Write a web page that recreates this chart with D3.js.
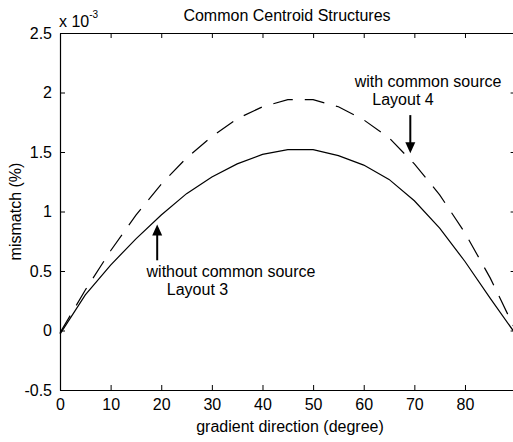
<!DOCTYPE html>
<html>
<head>
<meta charset="utf-8">
<script src="https://cdn.jsdelivr.net/npm/d3@7"></script>
<style>
  body { margin: 0; background: #fff; }
  text { font-family: "Liberation Sans", Arial, sans-serif; fill: #000; }
</style>
</head>
<body>
<div id="chart"></div>
<script>
// data, mismatch in units of 1e-3
var angles = [0, 5, 10, 15, 20, 25, 30, 35, 40, 45, 50, 55, 60, 65, 70, 75, 80, 85, 90];
var withoutSource = [-0.03, 0.30, 0.55, 0.77, 0.97, 1.15, 1.29, 1.40, 1.48, 1.52, 1.52, 1.47, 1.39, 1.27, 1.09, 0.86, 0.58, 0.27, -0.03];
var withSource = [-0.02, 0.34, 0.67, 0.97, 1.23, 1.45, 1.63, 1.78, 1.88, 1.94, 1.94, 1.88, 1.77, 1.62, 1.40, 1.14, 0.82, 0.44, 0.0];
var xTicks = [0, 10, 20, 30, 40, 50, 60, 70, 80];
var yTicks = [-0.5, 0, 0.5, 1, 1.5, 2, 2.5];

var width = 513, height = 442;
var margin = {top: 33, right: -2.6, bottom: 52, left: 60};
var fontSize = "16px";

var svg = d3.select("#chart").append("svg")
  .attr("width", width)
  .attr("height", height);

var x = d3.scaleLinear().domain([0, 90])
  .range([margin.left, width - margin.right]);
var y = d3.scaleLinear().domain([-0.5, 2.5])
  .range([height - margin.bottom, margin.top]);

//////////
// AXES //
//////////

var xAxis = d3.axisBottom(x).tickValues(xTicks).tickSizeInner(-5).tickSizeOuter(0).tickPadding(9);
var yAxis = d3.axisLeft(y).tickValues(yTicks).tickSizeInner(-5).tickSizeOuter(0).tickPadding(8)
  .tickFormat(function(d) { return d; });

var gx = svg.append("g")
  .attr("transform", "translate(0," + y(-0.5) + ")")
  .call(xAxis);
var gy = svg.append("g")
  .attr("transform", "translate(" + x(0) + ",0)")
  .call(yAxis);

// top and right ticks, no labels
var gxTop = svg.append("g")
  .attr("transform", "translate(0," + y(2.5) + ")")
  .call(d3.axisTop(x).tickValues(xTicks).tickSizeInner(-5).tickSizeOuter(0).tickFormat(""));
var gyRight = svg.append("g")
  .attr("transform", "translate(" + x(90) + ",0)")
  .call(d3.axisRight(y).tickValues(yTicks).tickSizeInner(-5).tickSizeOuter(0).tickFormat(""));

[gx, gy, gxTop, gyRight].forEach(function(g) {
  g.selectAll("path").attr("stroke", "#000").attr("stroke-width", 1.2);
  g.selectAll("line").attr("stroke", "#000");
  g.selectAll("text")
    .style("font-family", "Liberation Sans, Arial, sans-serif")
    .style("font-size", fontSize)
    .attr("fill", "#000");
});

// exponent label
var expo = svg.append("text")
  .attr("x", 59)
  .attr("y", 27)
  .style("font-size", fontSize);
expo.append("tspan").text("x 10");
expo.append("tspan").attr("dy", -9).style("font-size", "10px").text("-3");

/////////////
// CURVES  //
/////////////

var line = d3.line()
  .x(function(d) { return x(d[0]); })
  .y(function(d) { return y(d[1]); });

svg.append("path")
  .datum(angles.map(function(a, i) { return [a, withoutSource[i]]; }))
  .attr("d", line)
  .attr("fill", "none")
  .attr("stroke", "#000")
  .attr("stroke-width", 1.2);

svg.append("path")
  .datum(angles.map(function(a, i) { return [a, withSource[i]]; }))
  .attr("d", line)
  .attr("fill", "none")
  .attr("stroke", "#000")
  .attr("stroke-width", 1.2)
  .attr("stroke-dasharray", "20,12");

////////////////
// ANNOTATION //
////////////////

function arrow(ax, yFrom, yTo) {
  var tx = x(ax), ty = y(yTo), fy = y(yFrom);
  var dir = ty > fy ? 1 : -1;
  svg.append("line")
    .attr("x1", tx).attr("x2", tx)
    .attr("y1", fy).attr("y2", ty - dir * 9)
    .attr("stroke", "#000").attr("stroke-width", 2);
  svg.append("path")
    .attr("d", "M" + tx + "," + ty + " L" + (tx - 5) + "," + (ty - dir * 11) +
      " L" + (tx + 5) + "," + (ty - dir * 11) + "Z")
    .attr("fill", "#000");
}

// Layout 4 arrow points down, Layout 3 arrow points up
arrow(69.2, 1.81, 1.49);
arrow(19.2, 0.59, 0.89);

svg.append("text").attr("x", 428).attr("y", 87)
  .attr("text-anchor", "middle").style("font-size", fontSize)
  .text("with common source");
svg.append("text").attr("x", 403).attr("y", 105)
  .attr("text-anchor", "middle").style("font-size", fontSize)
  .text("Layout 4");

svg.append("text").attr("x", 231).attr("y", 277)
  .attr("text-anchor", "middle").style("font-size", fontSize)
  .text("without common source");
svg.append("text").attr("x", 197.5).attr("y", 295)
  .attr("text-anchor", "middle").style("font-size", fontSize)
  .text("Layout 3");

////////////
// LABELS //
////////////

svg.append("text")
  .attr("x", 287).attr("y", 21)
  .attr("text-anchor", "middle")
  .style("font-size", fontSize)
  .text("Common Centroid Structures");

svg.append("text")
  .attr("x", 290).attr("y", 432)
  .attr("text-anchor", "middle")
  .style("font-size", fontSize)
  .text("gradient direction (degree)");

svg.append("text")
  .attr("transform", "translate(21," + y(1) + ") rotate(-90)")
  .attr("text-anchor", "middle")
  .style("font-size", fontSize)
  .text("mismatch (%)");
</script>
</body>
</html>
